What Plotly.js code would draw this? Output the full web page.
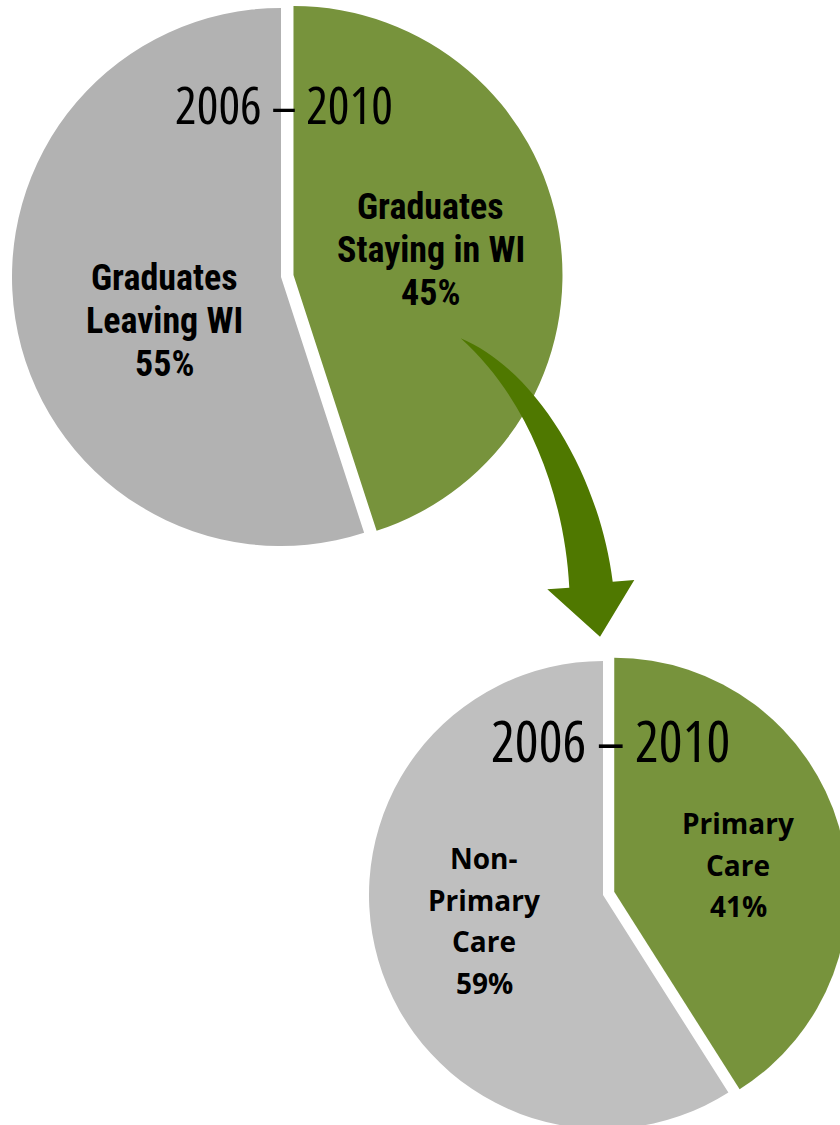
<!DOCTYPE html>
<html>
<head>
<meta charset="utf-8">
<script src="https://cdn.plot.ly/plotly-3.0.1.min.js"></script>
<style>
  html, body { margin: 0; padding: 0; width: 840px; height: 1125px; overflow: hidden; background: #fff; }
  #chart { position: absolute; left: -20px; top: -20px; width: 900px; height: 1180px; }
  /* condensed faces of the variable fonts */
  text[style*="Roboto"], text[style*="Noto Sans"] { font-stretch: 75% !important; }
</style>
</head>
<body>
<div id="chart"></div>
<script>
// ---- data ----
const periodLabel = '2006 \u2013 2010';
const topLabels = ['Graduates Staying in WI', 'Graduates Leaving WI'];
const topLines = [['Graduates', 'Staying in WI'], ['Graduates', 'Leaving WI']];
const topValues = [45, 55];
const bottomLabels = ['Primary Care', 'Non-Primary Care'];
const bottomLines = [['Primary', 'Care'], ['Non-', 'Primary', 'Care']];
const bottomValues = [41, 59];

// ---- styling / geometry ----
const W = 900, H = 1180, OFF = 20;
const GREEN = '#77933C', GRAY_TOP = '#B2B2B2', GRAY_BOT = '#BFBFBF', ARROW = '#4F7800';
const px = x => (x + OFF) / W;
const py = y => 1 - (y + OFF) / H;

function pieDomain(cx, cy, r, pull) {
  const half = r * (1 + pull);
  return { x: [px(cx - half), px(cx + half)], y: [py(cy + half), py(cy - half)] };
}

const topPull = 0.047, botPull = 0.05;
const traces = [
  {
    type: 'pie', labels: topLabels, values: topValues, sort: false, direction: 'clockwise',
    rotation: 0, pull: [topPull, 0], textinfo: 'none', hoverinfo: 'skip',
    marker: { colors: [GREEN, GRAY_TOP], line: { width: 0 } },
    domain: pieDomain(281, 277, 269, topPull), showlegend: false
  },
  {
    type: 'pie', labels: bottomLabels, values: bottomValues, sort: false, direction: 'clockwise',
    rotation: 0, pull: [botPull, 0], textinfo: 'none', hoverinfo: 'skip',
    marker: { colors: [GREEN, GRAY_BOT], line: { width: 0 } },
    domain: pieDomain(603, 895, 234, botPull), showlegend: false
  }
];

const annotations = [];
function addLines(lines, value, x, y0, step, font) {
  const all = lines.concat([value + '%']);
  all.forEach((t, i) => {
    annotations.push({
      xref: 'paper', yref: 'paper', x: px(x), y: py(y0 + i * step), text: t, showarrow: false,
      xanchor: 'center', yanchor: 'middle', font: font
    });
  });
}
const topFont = { family: 'Roboto, sans-serif', size: 36, color: '#000', weight: 'bold' };
const botFont = { family: 'Open Sans, sans-serif', size: 28, color: '#000', weight: 'bold' };
addLines(topLines[0], topValues[0], 431, 207, 43, topFont);
addLines(topLines[1], topValues[1], 164, 278, 43, topFont);
addLines(bottomLines[0], bottomValues[0], 738, 823, 41.7, botFont);
addLines(bottomLines[1], bottomValues[1], 484, 858, 41.7, botFont);

const yearFamily = 'Open Sans, Noto Sans, sans-serif';
annotations.push({ xref: 'paper', yref: 'paper', x: px(284), y: py(104), text: periodLabel, showarrow: false,
  xanchor: 'center', yanchor: 'middle', font: { family: yearFamily, size: 51, color: '#000', weight: 500 } });
annotations.push({ xref: 'paper', yref: 'paper', x: px(610), y: py(740), text: periodLabel, showarrow: false,
  xanchor: 'center', yanchor: 'middle', font: { family: yearFamily, size: 56, color: '#000', weight: 500 } });

// curved arrow (decorative shape) in page pixels, converted to paper
const P = (x, y) => px(x).toFixed(5) + ',' + py(y).toFixed(5);
const arrowPath = 'M' + P(460.7, 338.3) +
  ' C' + P(540, 372) + ' ' + P(600, 480) + ' ' + P(612.7, 581.7) +
  ' L' + P(634.3, 580) + ' L' + P(600, 636.7) + ' L' + P(547.3, 589.3) + ' L' + P(569.3, 587.7) +
  ' C' + P(565, 500) + ' ' + P(530, 400) + ' ' + P(460.7, 338.3) + ' Z';

const layout = {
  width: W, height: H, margin: { l: 0, r: 0, t: 0, b: 0 },
  paper_bgcolor: '#fff', plot_bgcolor: '#fff', showlegend: false,
  annotations: annotations,
  shapes: [{ type: 'path', xref: 'paper', yref: 'paper', path: arrowPath,
    fillcolor: ARROW, line: { width: 0 }, layer: 'above' }]
};
Plotly.newPlot('chart', traces, layout, { staticPlot: true, displayModeBar: false });
</script>
</body>
</html>
